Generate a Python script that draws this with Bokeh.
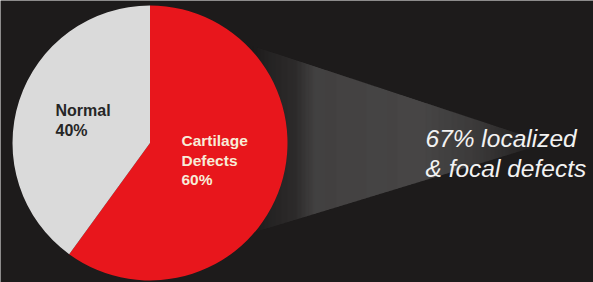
import math
from bokeh.plotting import figure
from bokeh.models import Range1d
from bokeh.core.properties import value
from bokeh.embed import file_html
from bokeh.resources import INLINE

# ---- data ----
categories = ["Cartilage Defects", "Normal"]
shares = [60, 40]
slice_colors = ["#e8161c", "#dadada"]
label_lines = [["Cartilage", "Defects", "60%"], ["Normal", "40%"]]
subset_lines = ["67% localized", "& focal defects"]

BG = "#1d1b1b"
W, H = 593, 282
p = figure(width=W, height=H, output_backend="svg", toolbar_location=None,
           x_range=Range1d(0, W), y_range=Range1d(0, H),
           background_fill_color=BG, border_fill_color=BG, min_border=0,
           outline_line_color=None)
p.axis.visible = False
p.grid.visible = False

def Y(ys):
    return H - ys

# ---- funnel (gradient approximated by 1px strips) ----
def top(x):
    return 49 + 0.33 * (x - 263)
def bot(x):
    return 229 - 0.305 * (x - 263)
def alpha_at(x):
    pts = [(250, 0.0), (275, 0.08), (295, 0.12), (315, 0.3), (420, 0.34),
           (470, 0.25), (548, 0.0)]
    for (x0, a0), (x1, a1) in zip(pts, pts[1:]):
        if x0 <= x <= x1:
            return a0 + (a1 - a0) * (x - x0) / (x1 - x0)
    return 0.0
xs_list, ys_list, al = [], [], []
for a in range(250, 548):
    b = a + 1
    xs_list.append([a, b, b, a])
    ys_list.append([Y(top(a)), Y(top(b)), Y(bot(b)), Y(bot(a))])
    al.append(alpha_at(a + 0.5))
p.patches(xs_list, ys_list, fill_color="#a8a8a8", fill_alpha=al, line_color=None)

# ---- pie ----
cx, cy, r = 149.5, Y(142.5), 137.5
total = sum(shares)
start = math.pi / 2
red_span = 2 * math.pi * shares[0] / total
p.wedge(x=cx, y=cy, radius=r, start_angle=start - red_span, end_angle=start,
        fill_color=slice_colors[0], line_color=None)
p.wedge(x=cx, y=cy, radius=r, start_angle=start, end_angle=start - red_span + 2 * math.pi,
        fill_color=slice_colors[1], line_color=None)

# ---- labels ----
font = value("Liberation Sans")
for i, ln in enumerate(label_lines[1]):
    p.text(x=[55], y=[Y(110 + 20 * i)], text=[ln], text_font=font, text_font_size="16px",
           text_font_style="bold", text_color="#262626", text_baseline="alphabetic")
for i, ln in enumerate(label_lines[0]):
    p.text(x=[181], y=[Y(140 + 19.5 * i)], text=[ln], text_font=font, text_font_size="15.5px",
           text_font_style="bold", text_color="#f7ecd8", text_baseline="alphabetic")
for i, ln in enumerate(subset_lines):
    p.text(x=[425], y=[Y(138 + 30 * i)], text=[ln], text_font=font, text_font_size="24.5px",
           text_font_style="italic", text_color="#f2f2f2", text_baseline="alphabetic")

open("out.html", "w").write(file_html(p, INLINE))
